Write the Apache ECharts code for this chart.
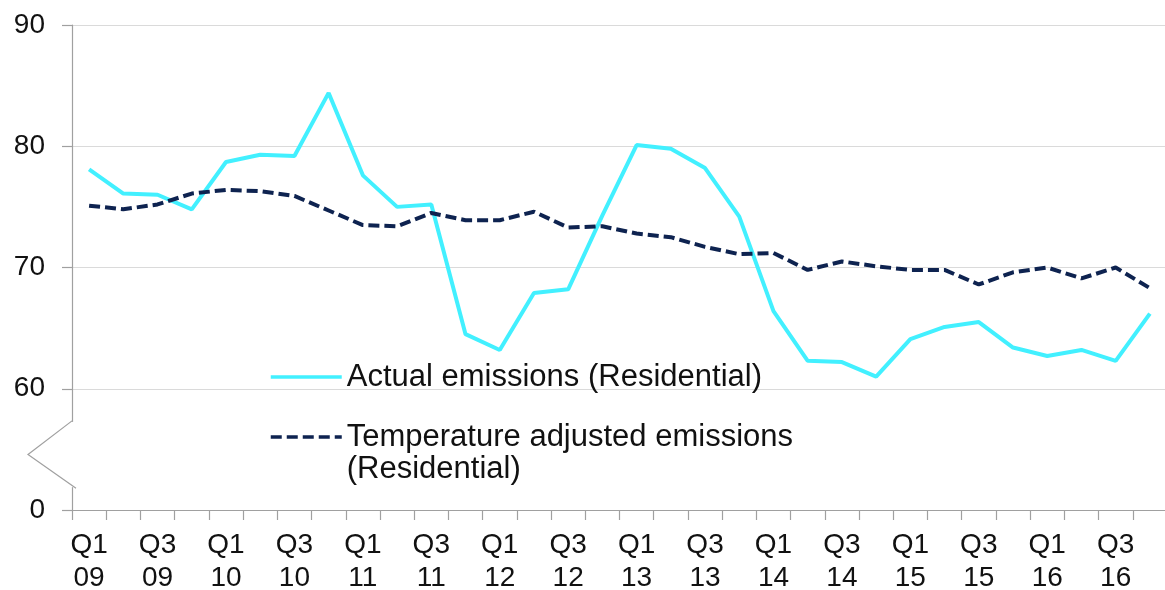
<!DOCTYPE html>
<html>
<head>
<meta charset="utf-8">
<script src="https://cdn.jsdelivr.net/npm/echarts@6/dist/echarts.min.js"></script>
<style>
html,body{margin:0;padding:0;background:#fff;}
#chart{width:1165px;height:590px;}
</style>
</head>
<body>
<div id="chart"></div>
<script>
// ---- data ----
var categories = ['Q1 09','Q2 09','Q3 09','Q4 09','Q1 10','Q2 10','Q3 10','Q4 10',
                  'Q1 11','Q2 11','Q3 11','Q4 11','Q1 12','Q2 12','Q3 12','Q4 12',
                  'Q1 13','Q2 13','Q3 13','Q4 13','Q1 14','Q2 14','Q3 14','Q4 14',
                  'Q1 15','Q2 15','Q3 15','Q4 15','Q1 16','Q2 16','Q3 16','Q4 16'];
var actualEmissions = [78.1, 76.1, 76.0, 74.8, 78.7, 79.3, 79.2, 84.4,
                       77.6, 75.0, 75.2, 64.5, 63.2, 67.9, 68.2, 74.3,
                       80.1, 79.8, 78.2, 74.2, 66.4, 62.3, 62.2, 61.0,
                       64.1, 65.1, 65.5, 63.4, 62.7, 63.2, 62.3, 66.2];
var adjustedEmissions = [75.1, 74.8, 75.2, 76.1, 76.4, 76.3, 75.9, 74.7,
                         73.5, 73.4, 74.5, 73.9, 73.9, 74.6, 73.3, 73.4,
                         72.8, 72.5, 71.7, 71.1, 71.2, 69.8, 70.5, 70.1,
                         69.8, 69.8, 68.6, 69.6, 70.0, 69.1, 70.0, 68.3];
var seriesNames = ['Actual emissions (Residential)', 'Temperature adjusted emissions (Residential)'];
var yTickValues = [50, 60, 70, 80, 90];
var yTickLabels = ['0', '60', '70', '80', '90'];

var chart = echarts.init(document.getElementById('chart'), null, {renderer: 'canvas'});
var FONT = '"Liberation Sans", Arial, sans-serif';
var axisGrey = '#a0a0a0';

var option = {
  backgroundColor: '#ffffff',
  animation: false,
  grid: {left: 72, top: 25, right: -2, bottom: 80, containLabel: false, outerBoundsMode: 'none'},
  legend: [
    {
      data: [seriesNames[0]],
      left: 269, top: 361, padding: 0,
      orient: 'vertical',
      itemWidth: 71, itemHeight: 14, itemGap: 0,
      itemStyle: {opacity: 0},
      lineStyle: {width: 3.5},
      textStyle: {fontFamily: FONT, fontSize: 31, color: '#111', lineHeight: 32}
    },
    {
      data: [seriesNames[1]],
      left: 269, top: 389, padding: 0,
      orient: 'vertical',
      itemWidth: 71, itemHeight: 14, itemGap: 0,
      itemStyle: {opacity: 0},
      lineStyle: {width: 3.5},
      formatter: function () { return '\nTemperature adjusted emissions\n(Residential)'; },
      textStyle: {fontFamily: FONT, fontSize: 31, color: '#111', lineHeight: 32}
    }
  ],
  xAxis: {
    type: 'category',
    data: categories,
    boundaryGap: true,
    axisLine: {show: true, lineStyle: {color: axisGrey, width: 1.2}},
    axisTick: {show: true, interval: 0, length: 10, lineStyle: {color: axisGrey, width: 1.2}},
    axisLabel: {
      interval: 1,
      margin: 19,
      fontFamily: FONT, fontSize: 28, lineHeight: 33, color: '#111',
      formatter: function (v) { return v.replace(' ', '\n'); }
    },
    splitLine: {show: false}
  },
  yAxis: {
    type: 'value',
    min: 50, max: 90, interval: 10,
    axisLine: {show: true, lineStyle: {color: axisGrey, width: 1.2}},
    axisTick: {show: true, length: 10, lineStyle: {color: axisGrey, width: 1.2}},
    axisLabel: {
      margin: 27,
      fontFamily: FONT, fontSize: 28, color: '#111',
      formatter: function (v) {
        var i = yTickValues.indexOf(v);
        return i >= 0 ? yTickLabels[i] : '';
      }
    },
    splitLine: {show: true, lineStyle: {color: '#dadada', width: 1.2}}
  },
  series: [
    {
      name: seriesNames[0],
      type: 'line',
      data: actualEmissions,
      symbol: 'none',
      lineStyle: {color: '#42F0FF', width: 4},
      itemStyle: {color: '#42F0FF'},
      z: 3
    },
    {
      name: seriesNames[1],
      type: 'line',
      data: adjustedEmissions,
      symbol: 'none',
      lineStyle: {color: '#0E2350', width: 4, type: [11, 5]},
      itemStyle: {color: '#0E2350'},
      z: 4
    }
  ]
};
chart.setOption(option);

// axis-break decoration on the y axis (between 0 and 60)
var p1 = chart.convertToPixel({yAxisIndex: 0}, 57.35);
var p2 = chart.convertToPixel({yAxisIndex: 0}, 51.8);
var gridLeft = 72;
chart.setOption({
  graphic: [
    {type: 'rect', shape: {x: gridLeft - 3, y: p1 + 1, width: 6, height: p2 - p1 - 2},
     style: {fill: '#ffffff'}, z: 100},
    {type: 'polyline', shape: {points: [[gridLeft, p1], [gridLeft - 44, (p1 + p2) / 2], [gridLeft + 4, p2]]},
     style: {stroke: axisGrey, lineWidth: 1.2, fill: null}, z: 101}
  ]
});
</script>
</body>
</html>
